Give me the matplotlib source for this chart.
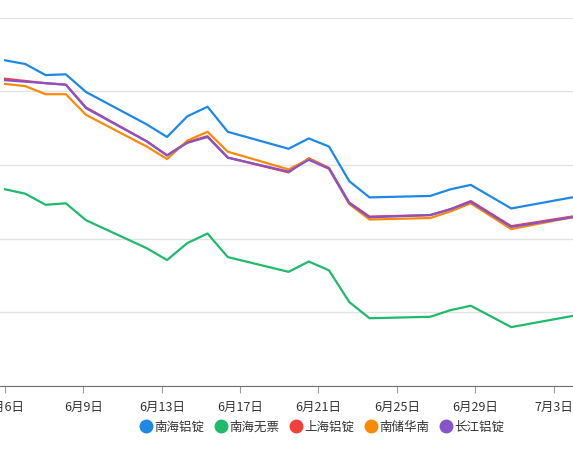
import numpy as np
import matplotlib.pyplot as plt
import matplotlib.dates as mdates
from matplotlib.lines import Line2D
import datetime as dt

plt.rcParams['font.family'] = ['Noto Sans CJK SC', 'DejaVu Sans']

# trading days (2022), 6/30 has no point: the line just joins 6/29 and 7/1
dates = ["2022-06-06", "2022-06-07", "2022-06-08", "2022-06-09", "2022-06-10",
         "2022-06-13", "2022-06-14", "2022-06-15", "2022-06-16", "2022-06-17",
         "2022-06-20", "2022-06-21", "2022-06-22", "2022-06-23", "2022-06-24",
         "2022-06-27", "2022-06-28", "2022-06-29", "2022-07-01", "2022-07-04"]

nanhai = [21420, 21370, 21220, 21230, 20990, 20550, 20380, 20660, 20790, 20450,
          20220, 20360, 20250, 19780, 19560, 19580, 19670, 19730, 19410, 19560]
nanhai_wupiao = [19670, 19610, 19460, 19480, 19250, 18870, 18710, 18940, 19070, 18750,
                 18550, 18690, 18570, 18140, 17920, 17940, 18030, 18090, 17800, 17950]
shanghai = [21170, 21140, 21110, 21090, 20780, 20320, 20130, 20310, 20390, 20100,
            19900, 20090, 19960, 19490, 19300, 19320, 19400, 19510, 19170, 19300]
nanchu_huanan = [21100, 21070, 20960, 20960, 20680, 20250, 20080, 20330, 20450, 20180,
                 19940, 20080, 19950, 19470, 19260, 19280, 19370, 19480, 19130, 19290]
changjiang = [21150, 21130, 21110, 21090, 20770, 20320, 20130, 20300, 20380, 20100,
              19910, 20070, 19950, 19480, 19290, 19320, 19400, 19500, 19160, 19290]

names = ["南海铝锭", "南海无票", "上海铝锭", "南储华南", "长江铝锭"]
series = [nanhai, nanhai_wupiao, shanghai, nanchu_huanan, changjiang]
colors = ["#1E88E5", "#1DBB6B", "#F2413A", "#F98A08", "#8653C8"]

x = mdates.date2num([dt.datetime.strptime(d, "%Y-%m-%d") for d in dates])

fig = plt.figure(figsize=(5.73, 4.51), dpi=100)
ax = fig.add_axes([0, 0.144, 1.0, 0.817])

for vals, c, n in zip(series, colors, names):
    ax.plot(x, vals, color=c, lw=1.6, label=n, solid_joinstyle='round')

ax.set_ylim(17000, 22000)
ax.set_yticks(np.arange(17000, 22001, 1000))
ax.yaxis.grid(True, color="#E3E3E3", lw=1)
ax.tick_params(axis='y', length=0, labelleft=False)

ax.set_xlim(x[0] - 0.25, x[-1] + 0.05)
# axis ticks split the span evenly (not on whole days)
step = 3.87
ticks = x[0] + step * np.arange(8)
ax.set_xticks(ticks)
labels = []
for t in ticks:
    d = mdates.num2date(t)
    labels.append(f"{d.month}月{d.day}日")
ax.set_xticklabels(labels, fontsize=9, color="#333333")
ax.tick_params(axis='x', length=5, color="#9A9CA3", pad=6)

for s in ["top", "right", "left"]:
    ax.spines[s].set_visible(False)
ax.spines["bottom"].set_color("#6E7079")
ax.set_axisbelow(True)

handles = [Line2D([], [], marker='o', ls='', color=c, markersize=9) for c in colors]
fig.legend(handles, names, loc='center', bbox_to_anchor=(0.562, 0.053), ncol=5,
           frameon=False, fontsize=9, handletextpad=0.1, columnspacing=0.9,
           handlelength=1.0, labelcolor="#333333")

fig.savefig("out.png", dpi=100)
